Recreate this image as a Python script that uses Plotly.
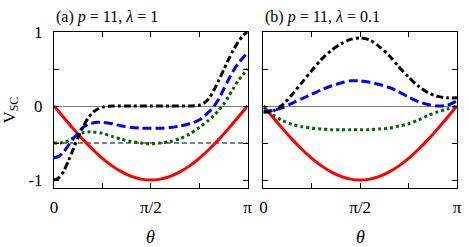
import plotly.graph_objects as go

# theta in units of pi
red_x = [0, 0.05, 0.1, 0.15, 0.2, 0.25, 0.3, 0.35, 0.4, 0.45, 0.5, 0.55, 0.6, 0.65, 0.7, 0.75, 0.8, 0.85, 0.9, 0.95, 1.0]
red_y = [0, -0.156, -0.309, -0.454, -0.588, -0.707, -0.809, -0.891, -0.951, -0.988, -1.0,
         -0.988, -0.951, -0.891, -0.809, -0.707, -0.588, -0.454, -0.309, -0.156, 0]

a_black_x = [0, 0.025, 0.05, 0.075, 0.1, 0.125, 0.15, 0.175, 0.2, 0.225, 0.25, 0.3, 0.4, 0.5, 0.6, 0.7,
             0.75, 0.775, 0.8, 0.825, 0.85, 0.875, 0.9, 0.925, 0.95, 0.975, 1.0]
a_black_y = [-1.0, -0.97, -0.88, -0.74, -0.58, -0.42, -0.28, -0.17, -0.09, -0.04, -0.015, 0.0, 0.0, 0.0, 0.0, 0.0,
             0.01, 0.04, 0.10, 0.21, 0.34, 0.48, 0.62, 0.75, 0.86, 0.95, 1.0]

a_blue_x = [0, 0.025, 0.05, 0.075, 0.1, 0.125, 0.15, 0.175, 0.2, 0.225, 0.25, 0.3, 0.35, 0.4, 0.45, 0.5,
            0.55, 0.6, 0.65, 0.7, 0.75, 0.775, 0.8, 0.825, 0.85, 0.875, 0.9, 0.925, 0.95, 0.975, 1.0]
a_blue_y = [-0.70, -0.68, -0.62, -0.53, -0.44, -0.36, -0.29, -0.25, -0.23, -0.22, -0.22, -0.24, -0.27, -0.29, -0.30, -0.30,
            -0.30, -0.29, -0.27, -0.24, -0.19, -0.14, -0.08, -0.01, 0.09, 0.22, 0.35, 0.47, 0.57, 0.65, 0.72]

a_green_x = [0, 0.025, 0.05, 0.075, 0.1, 0.125, 0.15, 0.175, 0.2, 0.25, 0.3, 0.35, 0.4, 0.45, 0.5,
             0.55, 0.6, 0.65, 0.7, 0.75, 0.8, 0.825, 0.85, 0.875, 0.9, 0.925, 0.95, 0.975, 1.0]
a_green_y = [-0.50, -0.50, -0.49, -0.47, -0.43, -0.39, -0.36, -0.35, -0.35, -0.37, -0.41, -0.45, -0.48, -0.50, -0.51,
             -0.50, -0.48, -0.44, -0.38, -0.29, -0.19, -0.13, -0.06, 0.02, 0.12, 0.23, 0.34, 0.42, 0.50]

a_ref_x = [0, 1]
a_ref_y = [-0.5, -0.5]

b_x = [0, 0.05, 0.1, 0.15, 0.2, 0.25, 0.3, 0.35, 0.4, 0.45, 0.5, 0.55, 0.6, 0.65, 0.7, 0.75, 0.8, 0.85, 0.9, 0.95, 1.0]
b_black_y = [-0.08, -0.07, 0.02, 0.16, 0.32, 0.48, 0.63, 0.75, 0.84, 0.90, 0.92, 0.89, 0.80, 0.68, 0.53, 0.39, 0.27, 0.18, 0.13, 0.11, 0.11]
b_blue_y = [-0.08, -0.06, -0.02, 0.04, 0.10, 0.16, 0.22, 0.27, 0.31, 0.34, 0.34, 0.32, 0.29, 0.25, 0.19, 0.12, 0.06, 0.02, 0.0, 0.01, 0.07]
b_green_y = [-0.02, -0.12, -0.20, -0.25, -0.28, -0.30, -0.31, -0.32, -0.32, -0.32, -0.32, -0.32, -0.31, -0.30, -0.27, -0.24, -0.19, -0.13, -0.08, -0.04, 0.0]

x_tickvals = [0, 0.5, 1]
x_ticktext = ["0", "π/2", "π"]
y_tickvals = [-1, 0, 1]
y_ticktext = ["-1", "0", "1"]

titles = ["(a) <i>p</i> = 11, <i>λ</i> = 1", "(b) <i>p</i> = 11, <i>λ</i> = 0.1"]

FONT = "Liberation Serif"
RED, BLUE, GREEN, BLACK = "#ff0000", "#0000ff", "#006400", "#000000"
LW = 3

fig = go.Figure()

def add(x, y, color, dash, xa, ya, width=LW):
    fig.add_trace(go.Scatter(x=x, y=y, mode="lines", xaxis=xa, yaxis=ya,
                             line=dict(color=color, width=width, dash=dash, shape="spline", smoothing=0.8),
                             showlegend=False, hoverinfo="skip"))

# panel a
add(a_ref_x, a_ref_y, BLACK, "5px,3px", "x", "y", width=1)
add(red_x, red_y, RED, "solid", "x", "y")
add(a_green_x, a_green_y, GREEN, "3px,3px", "x", "y")
add(a_blue_x, a_blue_y, BLUE, "9px,4px", "x", "y")
add(a_black_x, a_black_y, BLACK, "7px,3px,3px,3px", "x", "y")
# panel b
add(red_x, red_y, RED, "solid", "x2", "y2")
add(b_x, b_green_y, GREEN, "3px,3px", "x2", "y2")
add(b_x, b_blue_y, BLUE, "9px,4px", "x2", "y2")
add(b_x, b_black_y, BLACK, "7px,3px,3px,3px", "x2", "y2")

L, R, T, B = 54, 7, 32, 59
W, H = 469, 247
pw = W - L - R
ph = H - T - B

axcommon = dict(showline=True, linecolor="black", linewidth=1, mirror="ticks",
                ticks="inside", ticklen=5, tickcolor="black", tickwidth=1,
                showgrid=False, tickfont=dict(family=FONT, size=17, color="black"))

xa = dict(axcommon, range=[0, 1], tickvals=x_tickvals, ticktext=x_ticktext, zeroline=False,
          ticklabelstandoff=4,
          minor=dict(dtick=0.25, tick0=0, ticks="inside", ticklen=5, tickcolor="black", tickwidth=1, showgrid=False))
ya = dict(axcommon, range=[-1.108, 1.0], tickvals=y_tickvals, ticktext=y_ticktext,
          zeroline=True, zerolinecolor="#808080", zerolinewidth=1, ticklabelstandoff=7,
          minor=dict(dtick=0.5, tick0=0, ticks="inside", ticklen=5, tickcolor="black", tickwidth=1, showgrid=False))

fig.update_layout(
    width=W, height=H, margin=dict(l=L, r=R, t=T, b=B),
    paper_bgcolor="white", plot_bgcolor="white",
    font=dict(family=FONT, size=16, color="black"),
    xaxis=dict(xa, domain=[0, 196 / pw], anchor="y"),
    yaxis=dict(ya, domain=[0, 1], anchor="x"),
    xaxis2=dict(xa, domain=[(266 - L) / pw, 1], anchor="y2"),
    yaxis2=dict(ya, domain=[0, 1], anchor="x2", showticklabels=False),
)

annos = [
    dict(text=titles[0], x=0, y=1 + 15 / ph, xref="paper", yref="paper", xanchor="left", yanchor="middle",
         showarrow=False, font=dict(family=FONT, size=16)),
    dict(text=titles[1], x=(266 - L) / pw, y=1 + 15 / ph, xref="paper", yref="paper", xanchor="left",
         yanchor="middle", showarrow=False, font=dict(family=FONT, size=16)),
    dict(text="<i>θ</i>", x=98 / pw, y=-49 / ph, xref="paper", yref="paper", xanchor="center",
         yanchor="middle", showarrow=False, font=dict(family=FONT, size=18)),
    dict(text="<i>θ</i>", x=(364 - L) / pw, y=-49 / ph, xref="paper", yref="paper", xanchor="center",
         yanchor="middle", showarrow=False, font=dict(family=FONT, size=18)),
    dict(text="V<sub>SC</sub>", x=(10 - L) / pw, y=(188 - 110) / ph, xref="paper", yref="paper",
         xanchor="center", yanchor="middle", textangle=-90, showarrow=False, font=dict(family=FONT, size=17)),
]
fig.update_layout(annotations=annos)

fig.write_html("out.html", config={"displayModeBar": False},
               post_script="document.body.style.margin='0';document.body.style.padding='0';")
